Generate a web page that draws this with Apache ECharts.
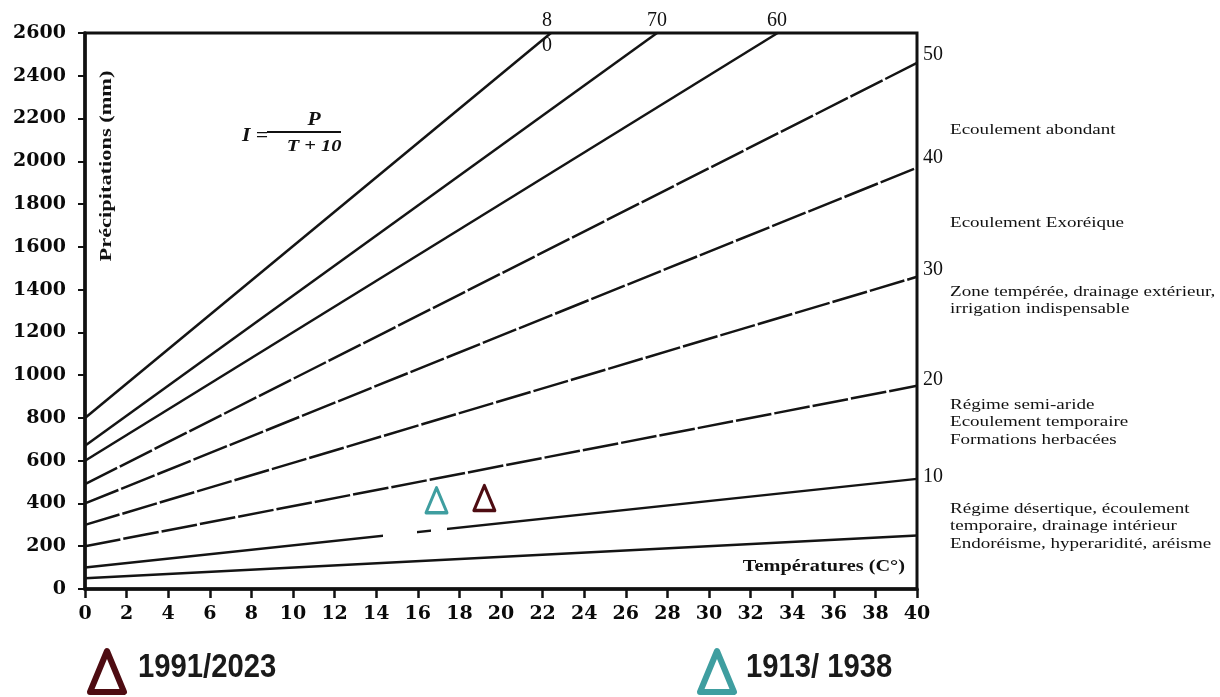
<!DOCTYPE html>
<html>
<head>
<meta charset="utf-8">
<script src="https://cdn.jsdelivr.net/npm/echarts@6/dist/echarts.min.js"></script>
<style>html,body{margin:0;padding:0;background:#fff}#c{width:1220px;height:697px}</style>
</head>
<body>
<div id="c"></div>
<script>
// ---- data ----
const xMin = 0, xMax = 40, xStep = 2;          // Températures (°C)
const yMin = 0, yMax = 2600, yStep = 200;      // Précipitations (mm)
const indexValues = [5, 10, 20, 30, 40, 50, 60, 70, 80];      // De Martonne index lines
const startT = [0, 0, 0, 0, 0, 0, 0, 0, 0];
const startP = [50, 100, 200, 300, 400, 490, 600, 670, 800];
const endT   = [40, 40, 40, 40, 40, 40, 33.3, 27.5, 22.4];
const endP   = [250, 515, 950, 1460, 1970, 2460, 2600, 2600, 2600];
const station1991 = [19.2, 425];
const station1913 = [16.9, 415];
const seriesNames = ['1991/2023', '1913/ 1938'];
const rightIndexLabels = ['50', '40', '30', '20', '10'];
const topIndexLabels = ['8', '70', '60'];
const zoneLabels = [
  ['Ecoulement abondant'],
  ['Ecoulement Exoréique'],
  ['Zone tempérée, drainage extérieur,', 'irrigation indispensable'],
  ['Régime semi-aride', 'Ecoulement temporaire', 'Formations herbacées'],
  ['Régime désertique, écoulement', 'temporaire, drainage intérieur', 'Endoréisme, hyperaridité, aréisme']
];

// ---- styles ----
const RED = '#4e0c12', TEAL = '#3f9ea0';
const dashedLines = [false, false, true, true, true, true, false, false, false];

const chart = echarts.init(document.getElementById('c'));

const lineSeries = indexValues.map((iv, i) => ({
  type: 'line',
  name: 'I=' + iv,
  data: [[startT[i], startP[i]], [endT[i], endP[i]]],
  symbol: 'none',
  silent: true,
  z: 2,
  lineStyle: { color: '#141414', width: 2.5, type: dashedLines[i] ? [36, 3] : 'solid' }
}));

const serif = '"Liberation Serif", "Times New Roman", serif';
const sans = '"Liberation Sans", Arial, sans-serif';
const graphics = [];
// y-axis name
graphics.push({ type: 'text', x: 107, y: 166, rotation: Math.PI / 2, scaleX: 1.4, z: 10,
  style: { text: 'Précipitations (mm)', font: 'bold 16px ' + serif, fill: '#111', textAlign: 'center', textVerticalAlign: 'middle' } });
// x-axis name
graphics.push({ type: 'text', x: 905, y: 567, scaleX: 1.27, z: 10,
  style: { text: 'Températures (C°)', font: 'bold 16px ' + serif, fill: '#111', textAlign: 'right', textVerticalAlign: 'middle' } });
// formula
graphics.push({ type: 'text', x: 242, y: 136, scaleX: 1.2, z: 10,
  style: { text: 'I =', font: 'italic bold 18px ' + serif, fill: '#111', textAlign: 'left', textVerticalAlign: 'middle' } });
graphics.push({ type: 'text', x: 314, y: 120, scaleX: 1.2, z: 10,
  style: { text: 'P', font: 'italic bold 18px ' + serif, fill: '#111', textAlign: 'center', textVerticalAlign: 'middle' } });
graphics.push({ type: 'line', z: 10, shape: { x1: 267, y1: 132, x2: 341, y2: 132 }, style: { stroke: '#111', lineWidth: 1.8 } });
graphics.push({ type: 'text', x: 314, y: 147, scaleX: 1.2, z: 10,
  style: { text: 'T + 10', font: 'italic bold 17px ' + serif, fill: '#111', textAlign: 'center', textVerticalAlign: 'middle' } });
// index labels on the right
const rightY = [55, 158, 270, 380, 477];
rightIndexLabels.forEach((t, i) => graphics.push({ type: 'text', x: 923, y: rightY[i], z: 10,
  style: { text: t, font: '20px ' + serif, fill: '#111', textAlign: 'left', textVerticalAlign: 'middle' } }));
// index labels at the top
const topX = [547, 657, 777];
topIndexLabels.forEach((t, i) => graphics.push({ type: 'text', x: topX[i], y: 21, z: 10,
  style: { text: t, font: '20px ' + serif, fill: '#111', textAlign: 'center', textVerticalAlign: 'middle' } }));
graphics.push({ type: 'text', x: 547, y: 46, z: 10,
  style: { text: '0', font: '20px ' + serif, fill: '#111', textAlign: 'center', textVerticalAlign: 'middle' } });
// zone descriptions
const zoneY = [130, 223, 292, 405, 509];
zoneLabels.forEach((lines, k) => lines.forEach((t, j) => graphics.push({ type: 'text', x: 950, y: zoneY[k] + j * 17.5, scaleX: 1.27, z: 10,
  style: { text: t, font: '15px ' + serif, fill: '#111', textAlign: 'left', textVerticalAlign: 'middle' } })));
// legend labels (condensed look)
const legendTextX = [138, 746];
seriesNames.forEach((t, i) => graphics.push({ type: 'text', x: legendTextX[i], y: 668, scaleX: 0.86, z: 10,
  style: { text: t, font: 'bold 34px ' + sans, fill: '#1a1a1a', textAlign: 'left', textVerticalAlign: 'middle' } }));
// erased bits of the I=10 line in the scan
graphics.push({ type: 'rect', z: 20, shape: { x: 383, y: 528, width: 34, height: 12 }, style: { fill: '#fff' } });
graphics.push({ type: 'rect', z: 20, shape: { x: 431, y: 525, width: 16, height: 12 }, style: { fill: '#fff' } });

const tickFont = { fontFamily: '"DejaVu Serif", serif', fontWeight: 'bold', fontSize: 19, color: '#0a0a0a' };
const plain = v => String(v);

chart.setOption({
  animation: false,
  backgroundColor: '#fff',
  grid: { left: 85, right: 303, top: 33, bottom: 108, show: true, borderColor: '#111', borderWidth: 3, outerBoundsMode: 'none' },
  xAxis: {
    type: 'value', min: xMin, max: xMax, interval: xStep,
    axisLine: { show: true, lineStyle: { color: '#111', width: 3.5 } },
    axisTick: { show: true, length: 9, lineStyle: { color: '#111', width: 2.5 } },
    axisLabel: Object.assign({ margin: 16, formatter: plain }, tickFont),
    splitLine: { show: false }
  },
  yAxis: {
    type: 'value', min: yMin, max: yMax, interval: yStep,
    axisLine: { show: true, lineStyle: { color: '#111', width: 3.5 } },
    axisTick: { show: true, length: 7, lineStyle: { color: '#111', width: 2 } },
    axisLabel: Object.assign({ margin: 19, formatter: plain }, tickFont),
    splitLine: { show: false }
  },
  legend: [
    { left: 87, top: 648, padding: 0, itemWidth: 34, itemHeight: 41, selectedMode: false, formatter: () => '',
      data: [{ name: seriesNames[0], icon: 'triangle', itemStyle: { color: '#fff', borderColor: RED, borderWidth: 6, borderJoin: 'round' } }] },
    { left: 697, top: 648, padding: 0, itemWidth: 34, itemHeight: 41, selectedMode: false, formatter: () => '',
      data: [{ name: seriesNames[1], icon: 'triangle', itemStyle: { color: '#fff', borderColor: TEAL, borderWidth: 6, borderJoin: 'round' } }] }
  ],
  series: lineSeries.concat([
    { type: 'scatter', name: seriesNames[0], data: [station1991], symbol: 'triangle', symbolSize: [21, 25], z: 5,
      itemStyle: { color: '#fff', borderColor: RED, borderWidth: 3.2, borderJoin: 'round', opacity: 1 } },
    { type: 'scatter', name: seriesNames[1], data: [station1913], symbol: 'triangle', symbolSize: [21, 25], z: 5,
      itemStyle: { color: '#fff', borderColor: TEAL, borderWidth: 3.2, borderJoin: 'round', opacity: 1 } }
  ]),
  graphic: graphics
});
</script>
</body>
</html>
